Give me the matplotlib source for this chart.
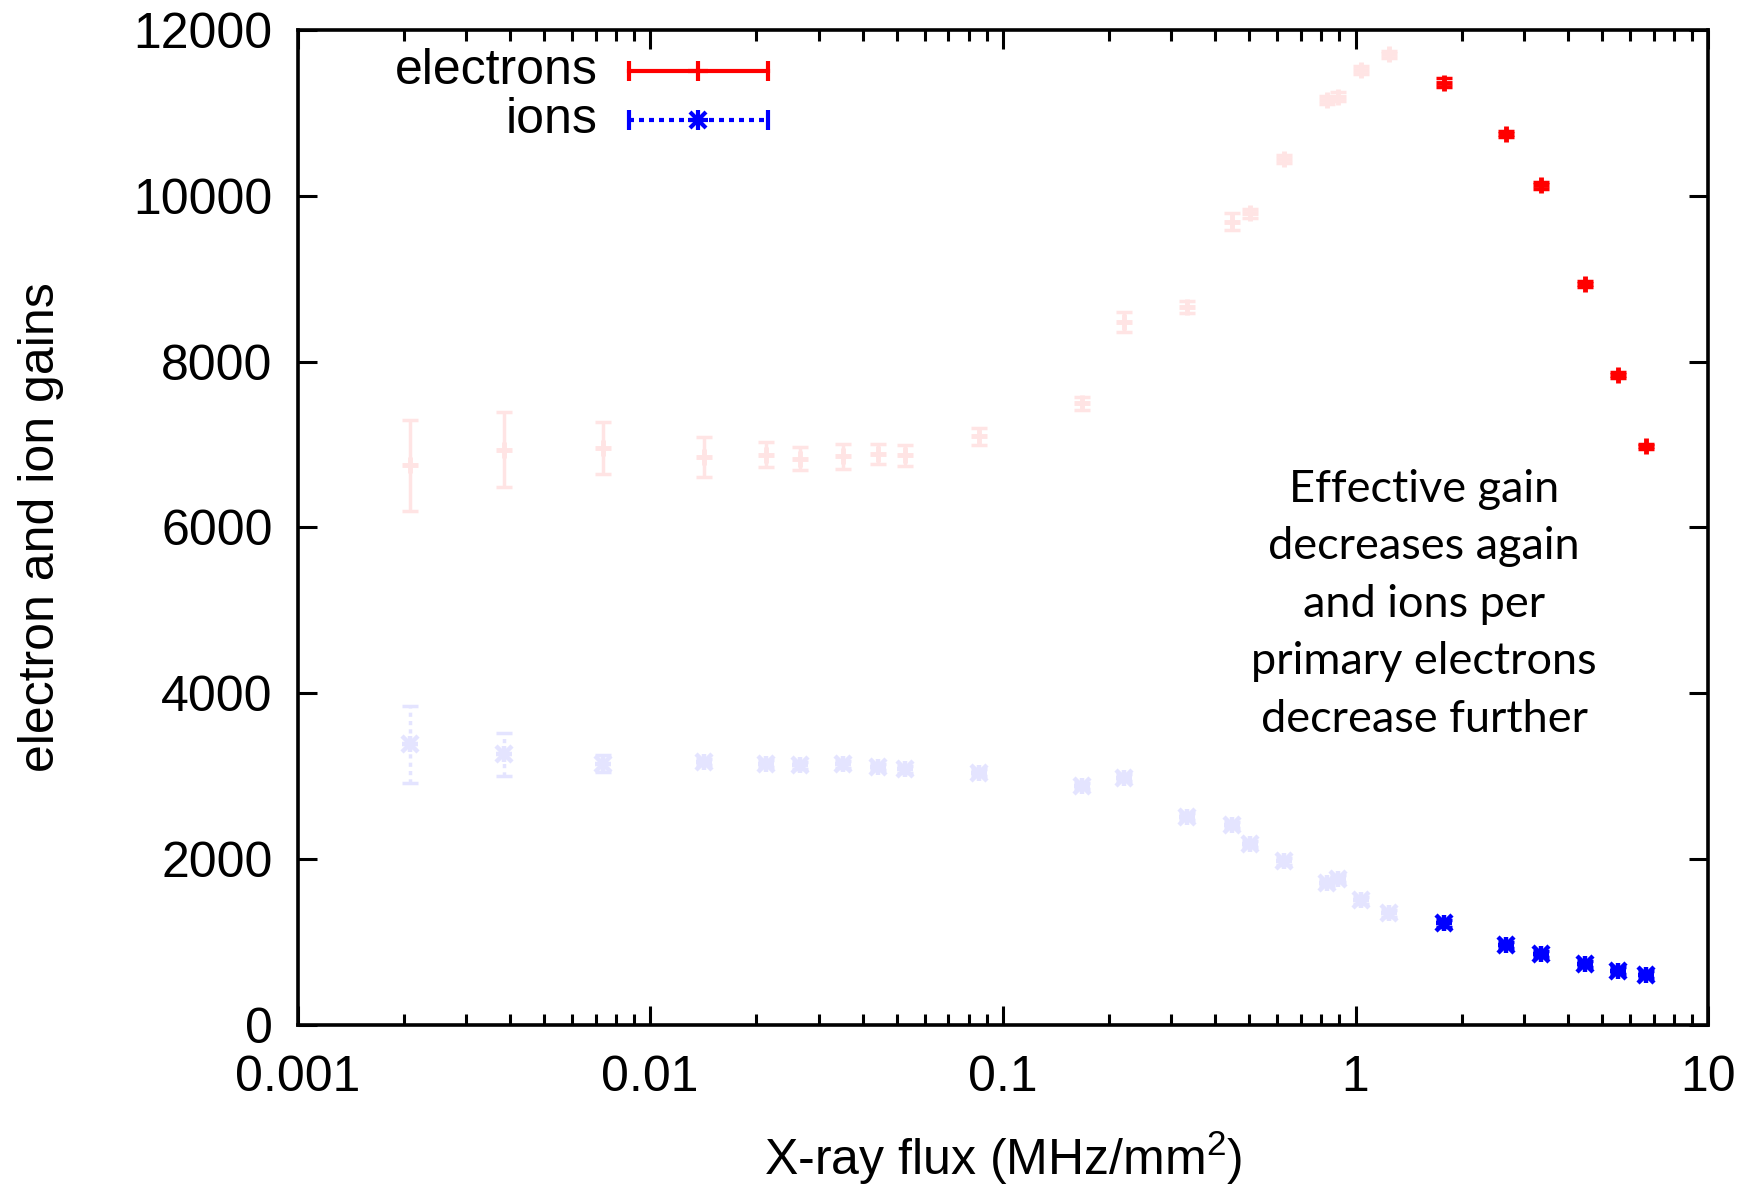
import matplotlib

matplotlib.use("Agg")
import matplotlib.pyplot as plt
from matplotlib.lines import Line2D
from matplotlib.ticker import FixedLocator, FuncFormatter, LogLocator, NullLocator

# X-ray flux (MHz/mm^2)
flux = [0.00208, 0.00385, 0.00735, 0.0142, 0.0213, 0.0265, 0.0353, 0.0443,
        0.0528, 0.0857, 0.168, 0.221, 0.333, 0.446, 0.502, 0.626, 0.832,
        0.889, 1.037, 1.247, 1.786, 2.674, 3.35, 4.46, 5.56, 6.68]
electron_gain = [6750, 6940, 6960, 6850, 6880, 6830, 6860, 6890, 6870, 7100,
                 7500, 8480, 8660, 9690, 9790, 10450, 11160, 11200, 11520,
                 11710, 11370, 10750, 10130, 8940, 7840, 6980]
electron_err = [550, 450, 310, 240, 150, 140, 150, 120, 130, 100,
                80, 120, 70, 100, 50, 50, 50, 50, 50, 40,
                50, 40, 40, 40, 40, 30]
ion_gain = [3380, 3260, 3150, 3170, 3150, 3130, 3140, 3110, 3080, 3040,
            2880, 2980, 2510, 2410, 2180, 1970, 1710, 1760, 1500, 1340,
            1220, 960, 850, 730, 650, 600]
ion_err = [470, 260, 100, 40, 40, 40, 40, 40, 40, 40,
           40, 40, 40, 40, 40, 40, 40, 40, 40, 40,
           40, 40, 40, 40, 40, 40]
n_faded = 20  # first points drawn washed out

RED = "#ff0000"
BLUE = "#0000ff"
RED_FADED = "#ffe4e4"
BLUE_FADED = "#e4e4ff"
DOTTED = (0, (1.2, 1.2))

plt.rcParams["font.family"] = ["Liberation Sans", "DejaVu Sans"]

fig = plt.figure(figsize=(17.61, 11.84), dpi=100)
ax = fig.add_axes([0.169, 0.1347, 0.801, 0.8397])


def star(x, y, color, size=12, mew=3.2):
    # gnuplot point type 3: "+" and "x" on top of each other
    for mk in ("+", "x"):
        ax.plot(x, y, linestyle="none", marker=mk, color=color,
                markersize=size, markeredgewidth=mew, zorder=3)


def draw(x, y, err, color, ions):
    eb = ax.errorbar(x, y, yerr=err, fmt="none", ecolor=color, elinewidth=2.5,
                     capsize=6, capthick=2.5, zorder=2)
    if ions:
        eb[2][0].set_linestyle(DOTTED)
        star(x, y, color)
    else:
        ax.plot(x, y, linestyle="none", marker="+", color=color,
                markersize=12, markeredgewidth=3.5, zorder=3)


sl_f = slice(0, n_faded)
sl_b = slice(n_faded, None)
draw(flux[sl_f], electron_gain[sl_f], electron_err[sl_f], RED_FADED, False)
draw(flux[sl_f], ion_gain[sl_f], ion_err[sl_f], BLUE_FADED, True)
draw(flux[sl_b], electron_gain[sl_b], electron_err[sl_b], RED, False)
draw(flux[sl_b], ion_gain[sl_b], ion_err[sl_b], BLUE, True)

ax.set_xscale("log")
ax.set_xlim(0.001, 10)
ax.set_ylim(0, 12000)
ax.xaxis.set_major_locator(FixedLocator([0.001, 0.01, 0.1, 1, 10]))
ax.xaxis.set_major_formatter(FuncFormatter(lambda v, _: f"{v:g}"))
ax.xaxis.set_minor_locator(LogLocator(base=10, subs=range(2, 10)))
ax.yaxis.set_major_locator(FixedLocator(range(0, 12001, 2000)))
ax.yaxis.set_minor_locator(NullLocator())

ax.tick_params(which="both", direction="in", top=True, right=True, width=2.2)
ax.tick_params(which="major", length=14, labelsize=36)
ax.tick_params(axis="x", which="major", pad=22)
ax.tick_params(axis="y", which="major", pad=18)
ax.tick_params(which="minor", length=8)
for s in ax.spines.values():
    s.set_linewidth(2.6)

ax.set_xlabel("X-ray flux (MHz/mm$^\\mathregular{2}$)", fontsize=36, labelpad=20)
ax.set_ylabel("electron and ion gains", fontsize=36, labelpad=50)

# legend drawn by hand, gnuplot style (title left of the sample)
tr = ax.transAxes
x0, x1, xm = 0.235, 0.3336, 0.284
for yy, col, ls, label in [(0.959, RED, "-", "electrons"),
                           (0.9096, BLUE, DOTTED, "ions")]:
    ax.add_line(Line2D([x0, x1], [yy, yy], transform=tr, color=col, lw=3, ls=ls))
    ax.add_line(Line2D([x0, x1], [yy, yy], transform=tr, color=col, ls="none",
                       marker="|", markersize=14, markeredgewidth=3))
    mks = ["+"] if label == "electrons" else ["+", "x"]
    for mk in mks:
        ax.add_line(Line2D([xm], [yy], transform=tr, color=col, ls="none",
                           marker=mk, markersize=14 if mk == "+" else 11,
                           markeredgewidth=3))
    ax.text(0.2126, yy, label, transform=tr, ha="right", va="center", fontsize=36)

ax.text(0.7986, 0.4226,
        "Effective gain\ndecreases again\nand ions per\nprimary electrons\ndecrease further",
        transform=tr, ha="center", va="center", fontsize=32.5, linespacing=1.5,
        family=["Lato", "DejaVu Sans"])

fig.savefig("out.png", dpi=100)
